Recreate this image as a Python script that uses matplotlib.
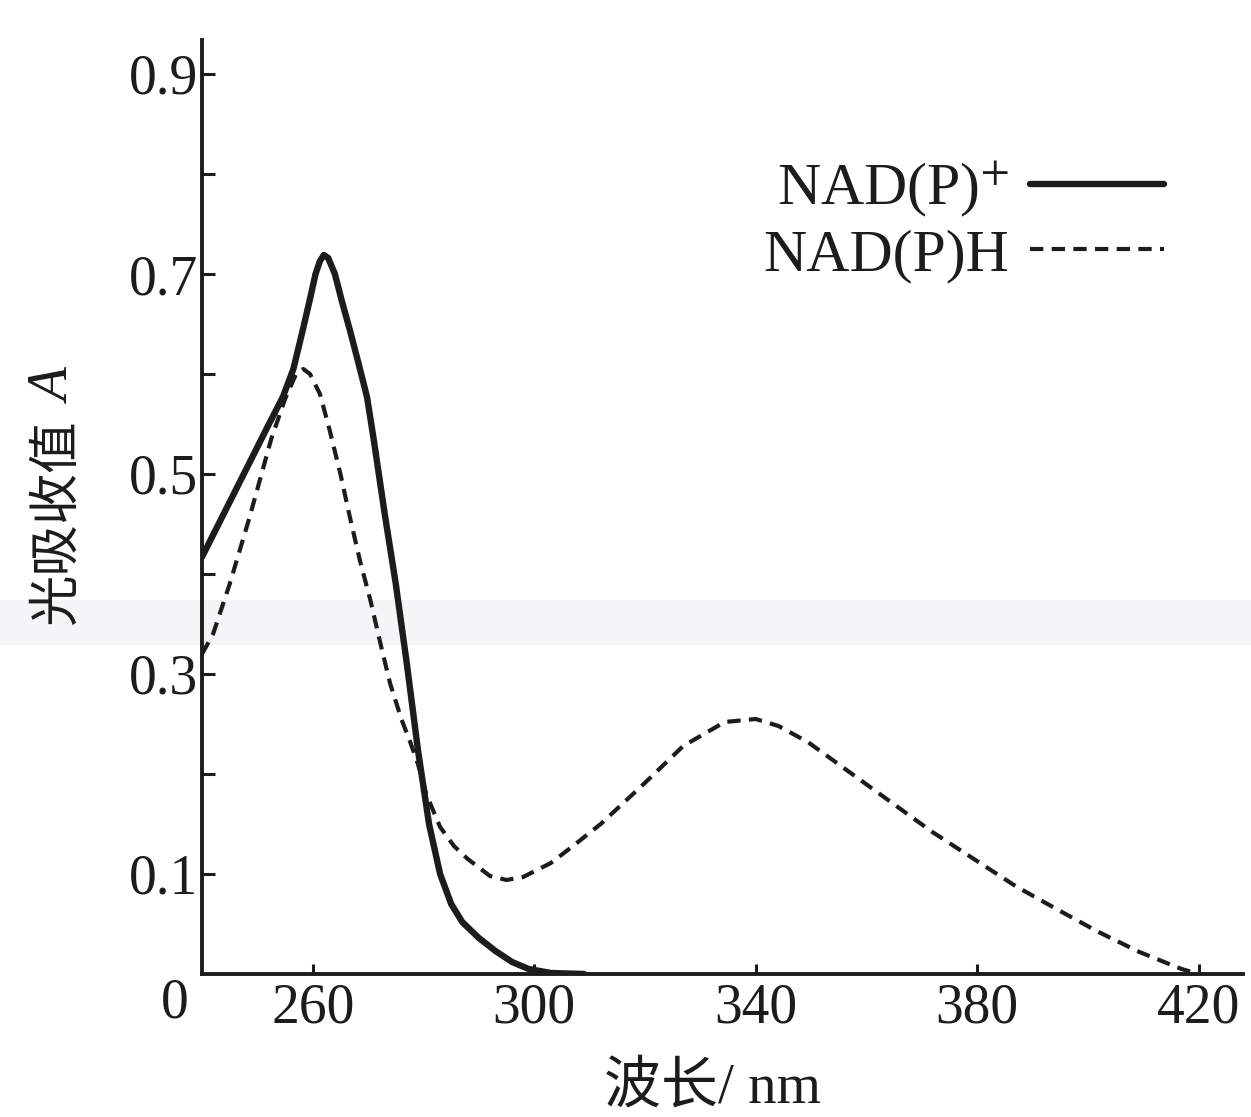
import matplotlib
matplotlib.use("Agg")
import matplotlib.pyplot as plt
from matplotlib.patches import Rectangle

# ---- data ----
nad_wl = [240, 244, 248, 252, 254.6, 256.5, 258.2, 259.5, 260.5, 261.3, 262, 262.8, 264,
          265.3, 266.7, 268.3, 269.8, 271, 273, 275, 277, 279, 281, 283, 285, 287, 290,
          293, 296, 299, 303, 309]
nad_abs = [0.417, 0.461, 0.505, 0.549, 0.577, 0.605, 0.644, 0.675, 0.700, 0.713, 0.719,
           0.716, 0.700, 0.672, 0.644, 0.610, 0.577, 0.535, 0.460, 0.390, 0.310, 0.224,
           0.150, 0.100, 0.070, 0.052, 0.036, 0.023, 0.012, 0.005, 0.001, 0.0]

nadh_wl = [240, 242, 245, 248.5, 252.5, 255, 257, 258.3, 259.5, 261.3, 263, 265, 266.7,
           268.5, 270.4, 272.5, 274, 276, 277.6, 279, 280.5, 283, 285.5, 288, 292, 295,
           298, 303, 307, 312, 319.4, 326.9, 334.4, 340, 344.1, 349.4, 356.9, 364.4,
           371.9, 379.4, 386.9, 394.3, 401.9, 409.3, 416.9, 420]
nadh_abs = [0.320, 0.340, 0.390, 0.455, 0.535, 0.575, 0.600, 0.605, 0.600, 0.580, 0.545,
            0.500, 0.457, 0.414, 0.374, 0.324, 0.290, 0.255, 0.232, 0.210, 0.180, 0.147,
            0.128, 0.115, 0.098, 0.094, 0.097, 0.111, 0.128, 0.150, 0.188, 0.228, 0.252,
            0.255, 0.248, 0.232, 0.202, 0.172, 0.142, 0.115, 0.088, 0.065, 0.042, 0.022,
            0.005, 0.0]

x_ticks = [260, 300, 340, 380, 420]
x_ticklabels = ["260", "300", "340", "380", "420"]
y_ticks = [0.1, 0.2, 0.3, 0.4, 0.5, 0.6, 0.7, 0.8, 0.9]
y_ticklabels = ["0.1", "", "0.3", "", "0.5", "", "0.7", "", "0.9"]

series_labels = ["NAD(P)$^{+}$", "NAD(P)H"]
x_label = "波长/ nm"
y_label_cjk = "光吸收值"
y_label_sym = "A"

# ---- styling ----
plt.rcParams["mathtext.fontset"] = "stix"
plt.rcParams["font.family"] = ["Liberation Serif", "Noto Sans CJK SC", "DejaVu Sans"]
ink = "#1c1c1c"

W, H = 1251, 1117
fig = plt.figure(figsize=(W / 100, H / 100), dpi=100)
fig.patch.set_facecolor("white")

# faint scan band
fig.patches.append(Rectangle((0, 1 - 645 / H), 1, 45 / H, transform=fig.transFigure,
                             facecolor="#ececf2", alpha=0.5, edgecolor="none", zorder=-5))

left_px, right_px, bottom_px, top_px = 202, 1243, 974, 40
ax = fig.add_axes([left_px / W, 1 - bottom_px / H, (right_px - left_px) / W,
                   (bottom_px - top_px) / H])
ax.set_facecolor("none")

ax.plot(nad_wl, nad_abs, color=ink, lw=4.6, solid_capstyle="round",
        solid_joinstyle="round", label=series_labels[0], zorder=3)
ax.plot(nadh_wl, nadh_abs, color=ink, lw=3.0, linestyle=(0, (3.2, 2.0)),
        label=series_labels[1], zorder=2)

ax.set_xlim(240, 428)
ax.set_ylim(0, 0.934)

for s in ["top", "right"]:
    ax.spines[s].set_visible(False)
for s in ["left", "bottom"]:
    ax.spines[s].set_linewidth(2.8)
    ax.spines[s].set_color(ink)

ax.set_xticks(x_ticks)
ax.set_xticklabels(x_ticklabels)
ax.set_yticks(y_ticks)
ax.set_yticklabels(y_ticklabels)
ax.tick_params(axis="both", direction="in", colors=ink, labelsize=40, width=2.2)
ax.tick_params(axis="y", length=9, pad=3)
ax.tick_params(axis="x", length=7, pad=6)

ax.annotate("0", xy=(240, 0), xytext=(-27, -29), textcoords="offset pixels",
            ha="center", va="center", fontsize=40, color=ink, annotation_clip=False)

ax.set_xlabel(x_label, fontsize=41, color=ink, va="center")
ax.xaxis.set_label_coords(0.49, -0.122)

ax.set_ylabel(y_label_cjk, fontsize=37, color=ink, va="center",
              family=["Noto Sans CJK SC", "DejaVu Sans"])
ax.yaxis.set_label_coords((56 - left_px) / (right_px - left_px),
                          (bottom_px - 522) / (bottom_px - top_px))
fig.text(56 / W, 1 - 387 / H, y_label_sym, rotation=90, ha="center", va="center",
         fontsize=40, style="italic", color=ink, family="Liberation Serif")

leg = ax.legend(loc="upper right", bbox_to_anchor=(0.953, 0.905), frameon=False,
                markerfirst=False, fontsize=43, handlelength=2.25, handletextpad=0.35,
                labelspacing=0.15, borderpad=0)
for t in leg.get_texts():
    t.set_color(ink)

fig.savefig("out.png", dpi=100)
